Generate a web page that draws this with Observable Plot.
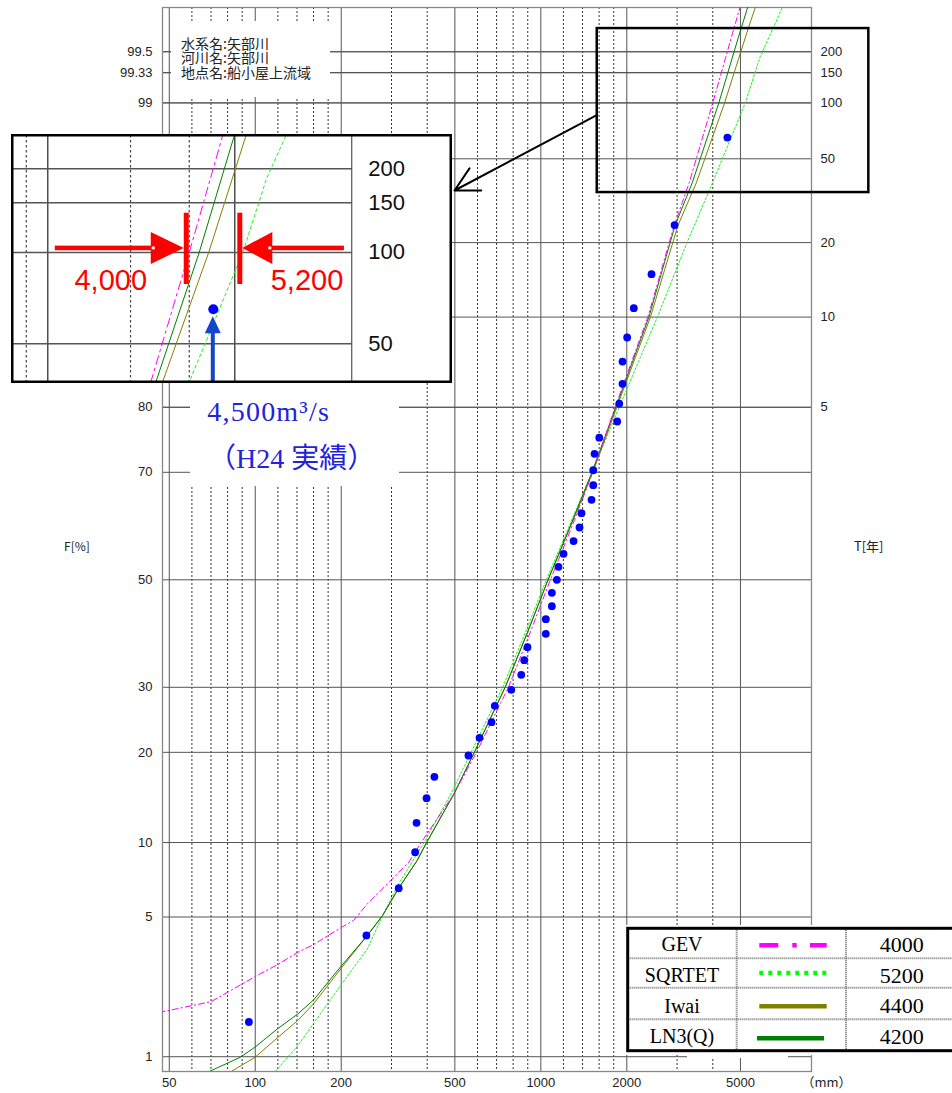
<!DOCTYPE html>
<html><head><meta charset="utf-8">
<script src="https://cdn.jsdelivr.net/npm/d3@7"></script>
<script src="https://cdn.jsdelivr.net/npm/@observablehq/plot@0.6"></script>
<style>
html,body{margin:0;padding:0;background:#fff;}
#wrap{position:relative;width:952px;height:1093px;overflow:hidden;background:#fff;}
#wrap svg{position:absolute;}
</style></head><body><div id="wrap"></div>
<script>
// ---------------- data ----------------
const obsQ = [95,245,318,363,367,398,424,558,610,672,690,788,854,875,898,1041,1041,1093,1093,1138,1153,1201,1302,1366,1388,1505,1526,1526,1542,1602,1851,1882,1932,1932,2006,2116,2441,2940,4500];
const obsF = [1.55,4.14,6.62,9.2,11.79,14.34,16.83,19.57,22.04,24.37,26.94,29.58,32.15,34.75,37.12,39.6,42.38,44.88,47.47,50.0,52.53,55.05,57.5,60.07,62.74,65.17,67.78,70.35,73.06,75.6,78.0,80.5,83.05,85.65,88.14,90.74,93.2,95.82,98.45];

// fitted curves: [Q, F%]
const gevCurve = [[46,1.74],[70,1.98],[80,2.21],[100,2.65],[120,3.03],[141,3.46],[160,3.76],[201,4.51],[221,4.83],[247,5.70],[275,6.48],[306,7.34],[345,8.42],[381,10.0],[422,11.7],[496,14.8],[595,20],[770,30],[920,40],[1080,50],[1280,60],[1520,70],[1820,80],[2370,90],[2930,95.8],[3308,97.36],[4000,99],[4699,99.62],[5190,99.8]];
const sqrtetCurve = [[117.8,0.826],[141,1.155],[160,1.52],[201,2.44],[247,3.59],[279,5.07],[320,7.0],[390,10],[484,14.8],[570,20],[735,30],[885,40],[1045,50],[1250,60],[1510,70],[1880,80],[2560,90],[3250,95],[3991,97.36],[5200,99],[5850,99.46],[7000,99.736],[7300,99.8]];
const iwaiCurve = [[82.6,0.826],[100,0.994],[120,1.28],[141,1.58],[160,1.93],[201,2.93],[247,4.14],[279,5.07],[318,6.63],[369,8.55],[398,10],[496,14.8],[585,20],[750,30],[900,40],[1060,50],[1265,60],[1520,70],[1845,80],[2420,90],[3020,95.8],[3503,97.36],[4400,99],[5267,99.62],[5910,99.8]];
const ln3Curve = [[69.3,0.826],[88.8,0.994],[99.7,1.13],[120,1.43],[141,1.71],[160,2.02],[201,3.0],[247,4.14],[279,5.07],[318,6.63],[369,8.55],[398,10],[496,14.8],[585,20],[750,30],[900,40],[1060,50],[1260,60],[1510,70],[1830,80],[2390,90],[2950,95.8],[3390,97.36],[4200,99],[4974,99.62],[5540,99.8]];

const methods = ["GEV","SQRTET","Iwai","LN3(Q)"];
const q100 = [4000,5200,4400,4200];

const fTicks = [1,5,10,20,30,50,70,80,99,99.33,99.5];
const fTickLabels = ["1","5","10","20","30","50","70","80","99","99.33","99.5"];
const tTicks = [5,10,20,50,100,150,200];
const tInset = [50,100,150,200];
const qMajor = [50,100,200,500,1000,2000,5000];
const qMinor = [60,70,80,90,120,140,160,180,300,400,600,700,800,900,1200,1400,1600,1800,3000,4000];
const qInsetMinor = [1800,3000,4000];
const qInsetMajor = [2000,5000];
const infoLines = ["水系名:矢部川","河川名:矢部川","地点名:船小屋上流域"];
const noteLines = ["4,500m³/s","（H24 実績）"];
const unitLabel = "（mm）";

// ---------------- helpers ----------------
function probit(p){
  const a=[-3.969683028665376e+01,2.209460984245205e+02,-2.759285104469687e+02,1.383577518672690e+02,-3.066479806614716e+01,2.506628277459239e+00];
  const b=[-5.447609879822406e+01,1.615858368580409e+02,-1.556989798598866e+02,6.680131188771972e+01,-1.328068155288572e+01];
  const c=[-7.784894002430293e-03,-3.223964580411365e-01,-2.400758277161838e+00,-2.549732539343734e+00,4.374664141464968e+00,2.938163982698783e+00];
  const d=[7.784695709041462e-03,3.224671290700398e-01,2.445134137142996e+00,3.754408661907416e+00];
  const pl=0.02425;
  if(p<pl){const q=Math.sqrt(-2*Math.log(p));return (((((c[0]*q+c[1])*q+c[2])*q+c[3])*q+c[4])*q+c[5])/((((d[0]*q+d[1])*q+d[2])*q+d[3])*q+1);}
  if(p<=1-pl){const q=p-0.5,r=q*q;return (((((a[0]*r+a[1])*r+a[2])*r+a[3])*r+a[4])*r+a[5])*q/(((((b[0]*r+b[1])*r+b[2])*r+b[3])*r+b[4])*r+1);}
  const q=Math.sqrt(-2*Math.log(1-p));return -(((((c[0]*q+c[1])*q+c[2])*q+c[3])*q+c[4])*q+c[5])/((((d[0]*q+d[1])*q+d[2])*q+d[3])*q+1);
}
const zF = F => probit(F/100);
const zT = T => probit(1-1/T);

const SANS = "'Liberation Sans', Arial, sans-serif";
const SERIF = "'Liberation Serif', 'Times New Roman', serif";
const CJK = "'Noto Sans CJK JP', 'Liberation Sans', sans-serif";

const curveData = {"GEV":gevCurve,"SQRTET":sqrtetCurve,"Iwai":iwaiCurve,"LN3(Q)":ln3Curve};
const style = {
  "GEV":   {stroke:"#ff00ff", dash:"6,3,1.5,3", insetDash:"9,4,2.5,4", legendDash:"19,14,4.4,13.3"},
  "SQRTET":{stroke:"#22ee22", dash:"2,2", insetDash:"3,3", legendDash:"4,5", legendStroke:"#00ff00"},
  "Iwai":  {stroke:"#808000"},
  "LN3(Q)":{stroke:"#008000"}
};
const obs = obsQ.map((q,i)=>({q, F:obsF[i]}));
const topObs = obs[d3.maxIndex(obs, d=>d.F)];

function curveMarks(inset){
  const order = ["SQRTET","Iwai","LN3(Q)","GEV"];
  return order.map(m => {
    const s = style[m];
    const o = {x:d=>d[0], y:d=>zF(d[1]), stroke:s.stroke, strokeWidth:1, clip:true};
    const dash = inset ? s.insetDash : s.dash;
    if (dash) o.strokeDasharray = dash;
    return Plot.line(curveData[m], o);
  });
}

// ---------------- main chart ----------------
const fLabel = new Map(fTicks.map((f,i)=>[zF(f), fTickLabels[i]]));
const tLabel = new Map(tTicks.map(t=>[zT(t), String(t)]));
const gridZ = [...fTicks.map(zF), ...tTicks.map(zT)];

const whiteBoxes = () => {
  const g = d3.create("svg:g").attr("fill","#fff");
  [[171,21,159,76],[190,368,209,118],[624,925,328,130],[687,1050,101,8]].forEach(([x,y,w,h]) =>
    g.append("rect").attr("x",x).attr("y",y).attr("width",w).attr("height",h));
  return g.node();
};

const mainNotes = () => {
  const g = d3.create("svg:g");
  g.append("text").attr("x",77).attr("y",546.7).attr("dy","0.35em").attr("text-anchor","middle")
    .attr("font-family",CJK).attr("font-size",12).attr("fill","#222").text("F[%]");
  g.append("text").attr("x",868.7).attr("y",546.7).attr("dy","0.35em").attr("text-anchor","middle")
    .attr("font-family",CJK).attr("font-size",13).attr("fill","#222").text("T[年]");
  infoLines.forEach((t,i) => g.append("text").attr("x",181).attr("y",48.6+i*14.7).attr("text-anchor","start")
    .attr("font-family",CJK).attr("font-size",14).attr("fill","#222").text(t));
  g.append("text").attr("x",268.7).attr("y",420.5).attr("text-anchor","middle")
    .attr("font-family",SERIF).attr("font-size",28).attr("letter-spacing","1.2px").attr("fill","#2222dd").text(noteLines[0]);
  g.append("text").attr("x",291.7).attr("y",468.3).attr("text-anchor","middle")
    .attr("font-family",SERIF+", 'Noto Sans CJK JP'").attr("font-size",28).attr("fill","#2222dd").text(noteLines[1]);
  // legend table
  const x0=627.7, x1=962, y0=928.3, y1=1050.7;
  const cols=[736.7,846], rows=[958.3,987.7,1019.3];
  const base=[951,982,1012.5,1043], lineY=[945.3,973,1006.3,1038.3];
  rows.forEach(y => g.append("line").attr("x1",x0).attr("x2",x1).attr("y1",y).attr("y2",y)
    .attr("stroke","#777").attr("stroke-width",2).attr("stroke-dasharray","1,1"));
  cols.forEach(x => g.append("line").attr("x1",x).attr("x2",x).attr("y1",y0).attr("y2",y1)
    .attr("stroke","#777").attr("stroke-width",2).attr("stroke-dasharray","1,1"));
  g.append("rect").attr("x",x0).attr("y",y0).attr("width",x1-x0).attr("height",y1-y0)
    .attr("fill","none").attr("stroke","#000").attr("stroke-width",3);
  methods.forEach((m,i) => {
    const s = style[m];
    g.append("text").attr("x",682).attr("y",base[i]).attr("text-anchor","middle")
      .attr("font-family",SERIF).attr("font-size",20).attr("fill","#000").text(m);
    g.append("text").attr("x",901.7).attr("y",base[i]+0.5).attr("text-anchor","middle")
      .attr("font-family",SERIF).attr("font-size",22).attr("fill","#000").text(String(q100[i]));
    const ln = g.append("line").attr("x1",m==="LN3(Q)"?757:759.3).attr("x2",m==="LN3(Q)"?824:826.7)
      .attr("y1",lineY[i]).attr("y2",lineY[i]).attr("stroke",s.legendStroke||s.stroke).attr("stroke-width",4.5);
    if (s.legendDash) ln.attr("stroke-dasharray",s.legendDash);
  });
  return g.node();
};

const main = Plot.plot({
  width:952, height:1093,
  marginLeft:162, marginRight:141, marginTop:7, marginBottom:22,
  style:{background:"transparent", fontFamily:SANS, fontSize:"13px", color:"#222", overflow:"visible"},
  x:{type:"log", domain:[47.34, 8867], axis:null},
  y:{domain:[-2.3985, 2.7917], axis:null},
  marks:[
    Plot.ruleX(qMinor, {stroke:"#333", strokeWidth:1, strokeDasharray:"2,2"}),
    Plot.ruleX(qMajor, {stroke:"#555", strokeWidth:1}),
    Plot.ruleY(gridZ, {stroke:"#555", strokeWidth:1}),
    Plot.frame({stroke:"#888", strokeWidth:1.3}),
    whiteBoxes,
    ...curveMarks(false),
    Plot.dot(obs, {x:"q", y:d=>zF(d.F), r:3.9, fill:"#0000ff", stroke:"none"}),
    Plot.rect([null], {x1:()=>1576, x2:()=>14077, y1:()=>1.889, y2:()=>2.689, fill:"none", stroke:"#000", strokeWidth:2.5}),
    Plot.arrow([null], {x1:()=>1576, y1:()=>2.268, x2:()=>498.7, y2:()=>1.899, stroke:"#000", strokeWidth:2, headAngle:56, headLength:20}),
    Plot.axisY(fTicks.map(zF), {anchor:"left", tickSize:0, tickPadding:10, tickFormat:d=>fLabel.get(d), label:null, fontSize:13}),
    Plot.axisY(tTicks.map(zT), {anchor:"right", tickSize:0, tickPadding:9, tickFormat:d=>tLabel.get(d), label:null, fontSize:13}),
    Plot.text(qMajor, {x:d=>d, frameAnchor:"bottom", dy:15, text:d=>String(d), fontFamily:SANS, fontSize:13, fill:"#222"}),
    Plot.text([10000], {x:d=>d, frameAnchor:"bottom", dy:15, text:()=>unitLabel, fontFamily:CJK, fontSize:13, fill:"#222"}),
    mainNotes
  ]
});
main.style.left="0px"; main.style.top="0px";
document.getElementById("wrap").appendChild(main);

// ---------------- magnified inset ----------------
const insetNotes = (index, scales) => {
  const g = d3.create("svg:g");
  const xs = scales.x, ys = scales.y;
  const yA = ys(zT(100)) - 4;
  const qLo = d3.min(q100), qHi = d3.max(q100);
  const fmt = d3.format(",");
  // red bars
  [qLo,qHi].forEach(q => g.append("rect").attr("x",xs(q)-5).attr("y",78.7).attr("width",5).attr("height",71.3).attr("fill","#ff0000"));
  // left arrow
  const tipL = xs(qLo)-5, baseL = tipL-33;
  g.append("rect").attr("x",baseL-96).attr("y",yA-2.3).attr("width",98).attr("height",4.6).attr("fill","#ff0000");
  g.append("path").attr("d",`M${tipL},${yA}L${baseL},${yA-16}L${baseL},${yA+16}Z`).attr("fill","#ff0000");
  g.append("rect").attr("x",baseL+1).attr("y",yA-1.4).attr("width",3).attr("height",2.8).attr("fill","#fff");
  // right arrow
  const tipR = xs(qHi), baseR = tipR+30;
  g.append("rect").attr("x",baseR-2).attr("y",yA-2.3).attr("width",73.6).attr("height",4.6).attr("fill","#ff0000");
  g.append("path").attr("d",`M${tipR},${yA}L${baseR},${yA-16}L${baseR},${yA+16}Z`).attr("fill","#ff0000");
  g.append("rect").attr("x",baseR-4).attr("y",yA-1.4).attr("width",3).attr("height",2.8).attr("fill","#fff");
  // red labels
  g.append("text").attr("x",xs(qLo)-78).attr("y",yA+42).attr("text-anchor","middle")
    .attr("font-family",SANS).attr("font-size",29).attr("fill","#ff0000").text(fmt(qLo));
  g.append("text").attr("x",xs(qHi)+64.7).attr("y",yA+42).attr("text-anchor","middle")
    .attr("font-family",SANS).attr("font-size",29).attr("fill","#ff0000").text(fmt(qHi));
  // blue arrow to the largest observation
  const bx = xs(topObs.q), by = ys(zF(topObs.F));
  const tip = by+7.5, hb = tip+17;
  g.append("rect").attr("x",bx-2).attr("y",hb-1).attr("width",4).attr("height",248-hb).attr("fill","#1446c8");
  g.append("path").attr("d",`M${bx},${tip}L${bx-8},${hb}L${bx+8},${hb}Z`).attr("fill","#1446c8");
  // border
  g.append("rect").attr("x",1.25).attr("y",1.25).attr("width",438.5).attr("height",246.5)
    .attr("fill","none").attr("stroke","#000").attr("stroke-width",2.5);
  return g.node();
};

const inset = Plot.plot({
  width:441, height:249,
  marginLeft:1, marginRight:100, marginTop:1, marginBottom:1.3,
  style:{background:"#fff", fontFamily:SANS, overflow:"visible"},
  x:{type:"log", domain:[2000,5000], range:[36.3,223.3], axis:null},
  y:{domain:[zT(200), zT(50)], range:[34.3,209.3], axis:null},
  marks:[
    Plot.ruleX(qInsetMinor, {stroke:"#444", strokeWidth:1.2, strokeDasharray:"2.5,2.5"}),
    Plot.ruleX(qInsetMajor, {stroke:"#222", strokeWidth:1.2}),
    Plot.ruleX([8867], {stroke:"#555", strokeWidth:1.2}),
    Plot.ruleY(tInset.map(zT), {stroke:"#555", strokeWidth:1.6}),
    ...curveMarks(true),
    Plot.dot([topObs], {x:"q", y:d=>zF(d.F), r:5, fill:"#0000ff", stroke:"none"}),
    Plot.text(tInset, {frameAnchor:"right", y:d=>zT(d), text:d=>String(d), dx:15.7, textAnchor:"start", fontSize:22, fill:"#111", fontFamily:SANS}),
    insetNotes
  ]
});
inset.style.left="11px"; inset.style.top="134px";
document.getElementById("wrap").appendChild(inset);
</script>
</body></html>
